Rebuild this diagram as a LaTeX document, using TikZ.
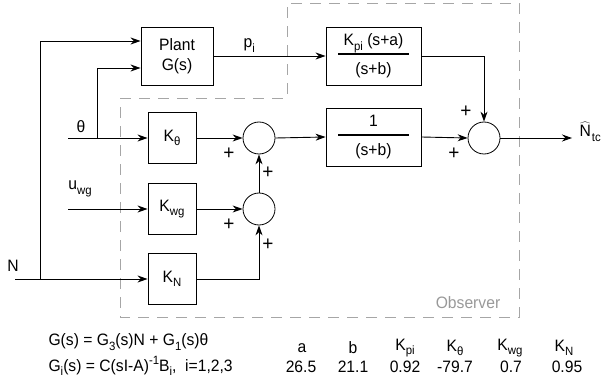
\documentclass[tikz,border=0pt]{standalone}
\usepackage{fontspec}
\setmainfont{Liberation Sans}[FakeStretch=0.95]
\usepackage{tikz}
\usetikzlibrary{arrows.meta, positioning, calc}

\newcommand{\lsub}[1]{\raisebox{-4.5pt}{\fontsize{12}{14}\selectfont #1}}
\newcommand{\lsup}[1]{\raisebox{6.5pt}{\fontsize{12}{14}\selectfont #1}}

\begin{document}
\begin{tikzpicture}[
    x=1pt, y=-1pt,
    every node/.style={font=\fontsize{16.5}{19.5}\selectfont},
    block/.style={rectangle, draw, line width=0.9pt, minimum width=48pt, minimum height=51pt, inner sep=0pt},
    wideblock/.style={block, minimum width=95pt, minimum height=58pt, align=center},
    sumnode/.style={circle, draw, line width=0.8pt, minimum size=32pt, inner sep=0pt},
    arr/.style={-{Stealth[length=10pt, width=7pt]}, line width=0.9pt},
    sign/.style={inner sep=0pt, font=\fontsize{20}{22}\selectfont},
    obs/.style={draw=gray!70, dash pattern=on 11pt off 8pt, line width=0.9pt}
]
\useasboundingbox (0,0) rectangle (602,390);

% Observer outline
\draw[obs] (120,98) -- (287,98) -- (287,3) -- (519,3) -- (519,317) -- (120,317) -- cycle;
\node[text=gray!80] (obslbl) at (468,303) {Observer};

% Plant and observer blocks
\node[block, minimum width=72pt, minimum height=58pt, align=center] (plant) at (177,56) {Plant\\G(s)};
\node[wideblock] (Kpi) at (373.5,56) {K\lsub{pi} (s+a)\\[-10pt]\rule{71pt}{2pt}\\[0pt](s+b)};
\node[wideblock] (filt) at (373.5,137) {1\\[-10pt]\rule{71pt}{2pt}\\[0pt](s+b)};
\node[block] (Kth) at (172,138) {K\lsub{θ}};
\node[block] (Kwg) at (172,209) {K\lsub{wg}};
\node[block] (KN) at (172,279) {K\lsub{N}};

% Summing junctions
\node[sumnode] (sum1) at (259,138) {};
\node[sumnode] (sum3) at (259,209) {};
\node[sumnode] (sum2) at (484,138) {};

% Inputs and output
\coordinate (thin) at (68,138);
\coordinate (thbr) at (97,138);
\coordinate (uin) at (68,209);
\coordinate (Nin) at (15,279);
\coordinate (Nbr) at (40,279);
\coordinate (out) at (572,138);

\node (thlbl) at (81,127) {θ};
\node (ulbl) at (80,189) {u\lsub{wg}};
\node (Nlbl) at (13,266) {N};
\node[anchor=west] (outlbl) at (576,132) {$\widehat{\mbox{N}}$\hspace{1pt}\lsub{tc}};

% Connections
\draw[arr] (thin) -- (Kth.west);
\draw[arr] (thbr) |- ($(plant.west)+(0,12)$);
\draw[arr] (uin) -- (Kwg.west);
\draw[arr] (Nin) -- (KN.west);
\draw[arr] (Nbr) |- ($(plant.west)+(0,-15)$);
\draw[arr] (plant.east) -- node[above, pos=0.32] {p\lsub{i}} (Kpi.west);
\draw[arr] (Kth.east) -- (sum1.west);
\draw[arr] (Kwg.east) -- (sum3.west);
\draw[arr] (KN.east) -| (sum3.south);
\draw[arr] (sum3) -- (sum1);
\draw[arr] (sum1.east) -- (filt.west);
\draw[arr] (filt.east) -- (sum2.west);
\draw[arr] (Kpi.east) -| (sum2.north);
\draw[arr] (sum2.east) -- (out);

% Signs
\node[sign] (s1a) at (229,154) {+};
\node[sign] (s1b) at (268,173) {+};
\node[sign] (s3a) at (229,225) {+};
\node[sign] (s3b) at (268,245) {+};
\node[sign] (s2a) at (466,112) {+};
\node[sign] (s2b) at (454,154) {+};

% Equations
\node[anchor=west] (eq1) at (45,342) {G(s) = G\lsub{3}(s)N + G\lsub{1}(s)θ};
\node[anchor=west] (eq2) at (45,366) {G\lsub{i}(s) = C(sI-A)\lsup{-1}B\lsub{i},\ \ i=1,2,3};

% Parameter table
\node (ha) at (302,348) {a};
\node (hb) at (353,348) {b};
\node (hKpi) at (405,348) {K\lsub{pi}};
\node (hKth) at (455,348) {K\lsub{θ}};
\node (hKwg) at (510,348) {K\lsub{wg}};
\node (hKN) at (564,348) {K\lsub{N}};
\node (va) at (301,367) {26.5};
\node (vb) at (353,367) {21.1};
\node (vKpi) at (405,367) {0.92};
\node (vKth) at (455,367) {-79.7};
\node (vKwg) at (511,367) {0.7};
\node (vKN) at (567,367) {0.95};
\end{tikzpicture}
\end{document}
